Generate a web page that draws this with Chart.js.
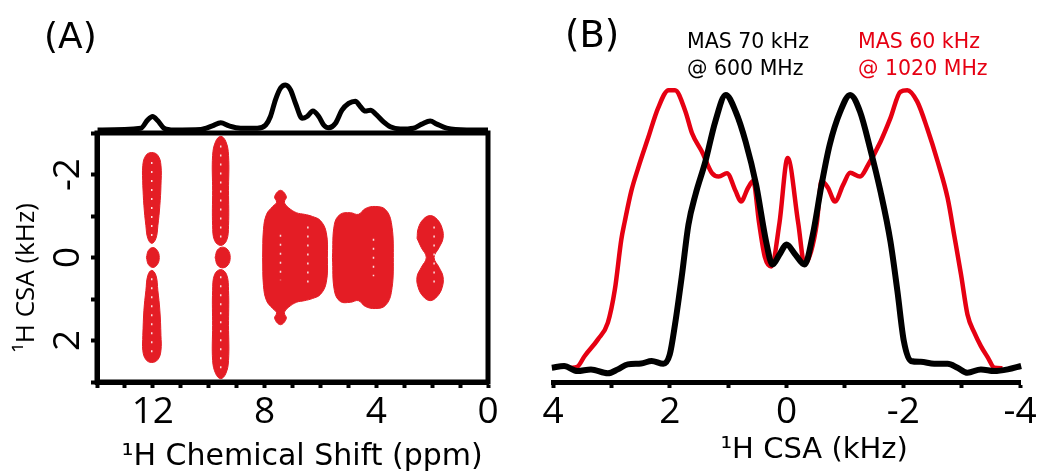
<!DOCTYPE html>
<html><head><meta charset="utf-8">
<script src="https://cdn.jsdelivr.net/npm/chart.js@4.4.1/dist/chart.umd.min.js"></script>
<style>
html,body{margin:0;padding:0;background:#fff;}
#wrap{position:relative;width:1040px;height:472px;overflow:hidden;}
canvas{position:absolute;top:0;}
</style></head><body>
<div id="wrap">
<canvas id="cA" width="520" height="472" style="left:0"></canvas>
<canvas id="cP" width="520" height="140" style="left:0"></canvas>
<canvas id="cB" width="520" height="472" style="left:520px"></canvas>
</div>
<script>
// ---------- Panel A: 1D projection (ppm, intensity) ----------
const projPpm = [13.98,12.43,12.19,12.01,11.83,11.60,11.25,10.29,9.87,9.57,9.27,8.86,8.26,7.96,7.79,7.61,7.43,7.25,7.07,6.89,6.65,6.48,6.27,6.06,5.88,5.70,5.46,5.23,4.99,4.75,4.57,4.39,4.21,3.98,3.74,3.50,3.14,2.67,2.37,2.07,1.83,1.48,0.76,0.00];
const projInt = [0,0.04,0.22,0.30,0.21,0.04,0,0.01,0.09,0.16,0.09,0.04,0.04,0.11,0.30,0.67,0.93,1.00,0.89,0.59,0.26,0.30,0.42,0.30,0.11,0.05,0.15,0.44,0.59,0.64,0.52,0.42,0.44,0.33,0.18,0.07,0.02,0.04,0.13,0.20,0.13,0.04,0,0];

// ---------- Panel A: 2D contour outlines [ppm, kHz] ----------
const peak12Upper = [[12.36,-1.73],[12.36,-2.22],[12.25,-2.46],[12.04,-2.53],[11.82,-2.46],[11.71,-2.22],[11.71,-1.73],[11.75,-1.25],[11.82,-0.77],[11.89,-0.46],[12.04,-0.34],[12.18,-0.46],[12.25,-0.77],[12.32,-1.25],[12.36,-1.73]];
const peak12Center = [[12.23,0],[12.16,-0.17],[12.0,-0.24],[11.84,-0.17],[11.77,0],[11.84,0.17],[12.0,0.24],[12.16,0.17],[12.23,0]];
const peak12Lower = [[12.36,1.88],[12.32,1.27],[12.25,0.80],[12.18,0.43],[12.04,0.31],[11.89,0.43],[11.82,0.80],[11.75,1.27],[11.71,1.88],[11.71,2.24],[11.82,2.46],[12.04,2.53],[12.25,2.46],[12.36,2.24],[12.36,1.88]];
const peak96Upper = [[9.86,-1.61],[9.86,-2.46],[9.75,-2.80],[9.57,-2.92],[9.39,-2.80],[9.29,-2.46],[9.29,-1.61],[9.29,-0.77],[9.36,-0.41],[9.57,-0.29],[9.79,-0.41],[9.86,-0.77],[9.86,-1.61]];
const peak96Center = [[9.77,0],[9.69,-0.18],[9.5,-0.25],[9.31,-0.18],[9.23,0],[9.31,0.18],[9.5,0.25],[9.69,0.18],[9.77,0]];
const peak96Lower = [[9.86,1.64],[9.86,0.80],[9.79,0.41],[9.57,0.29],[9.36,0.41],[9.29,0.80],[9.29,1.64],[9.29,2.48],[9.39,2.80],[9.57,2.92],[9.75,2.80],[9.86,2.48],[9.86,1.64]];
const peak7 = [[8.07,0],[8.04,-0.67],[7.93,-1.04],[7.71,-1.23],[7.57,-1.33],[7.64,-1.47],[7.43,-1.62],[7.22,-1.47],[7.29,-1.33],[7.14,-1.20],[6.86,-1.08],[6.57,-1.04],[6.29,-0.99],[6.0,-0.89],[5.79,-0.60],[5.75,0],[5.79,0.60],[6.0,0.89],[6.29,0.99],[6.57,1.04],[6.86,1.08],[7.14,1.20],[7.29,1.33],[7.22,1.47],[7.43,1.62],[7.64,1.47],[7.57,1.33],[7.71,1.23],[7.93,1.04],[8.04,0.67],[8.07,0]];
const peak45 = [[5.57,0],[5.5,-0.80],[5.29,-1.04],[4.93,-1.08],[4.64,-1.04],[4.39,-1.18],[4.04,-1.23],[3.68,-1.16],[3.46,-0.84],[3.39,0],[3.46,0.84],[3.68,1.16],[4.04,1.23],[4.39,1.18],[4.64,1.04],[4.93,1.08],[5.29,1.06],[5.5,0.80],[5.57,0]];
const peak2 = [[2.54,-0.46],[2.5,-0.70],[2.32,-0.92],[2.07,-1.01],[1.82,-0.92],[1.64,-0.70],[1.61,-0.46],[1.75,-0.24],[1.93,0],[1.75,0.24],[1.61,0.46],[1.64,0.72],[1.82,0.94],[2.07,1.04],[2.32,0.94],[2.5,0.72],[2.54,0.46],[2.39,0.24],[2.21,0],[2.39,-0.24],[2.54,-0.46]];
const contours = [peak12Upper, peak12Center, peak12Lower, peak96Upper, peak96Center, peak96Lower, peak7, peak45, peak2];
// inner contour gaps (white dotted ridges) [ppm, kHz]
const ridges = [
  [[12.04,-2.3],[12.04,-0.5]], [[12.04,0.5],[12.04,2.3]],
  [[9.57,-2.7],[9.57,-0.45]], [[9.57,0.45],[9.57,2.7]],
  [[7.43,-0.55],[7.43,0.55]], [[6.45,-0.75],[6.45,0.75]],
  [[4.1,-0.45],[4.1,0.45]], [[1.93,-0.75],[1.93,0.75]]
];

// ---------- Panel A ticks ----------
const ppmTickLabels = [12, 8, 4, 0];
const csaTickLabelsA = [-2, 0, 2];

// ---------- Panel B: CSA line shapes ----------
const csaBlack = [4.02,3.81,3.58,3.35,3.06,2.89,2.72,2.49,2.31,2.11,2.00,1.91,1.79,1.68,1.56,1.39,1.22,1.04,0.87,0.70,0.52,0.35,0.24,0.12,0.00,-0.15,-0.31,-0.45,-0.60,-0.74,-0.92,-1.09,-1.26,-1.43,-1.61,-1.78,-1.90,-2.01,-2.13,-2.30,-2.53,-2.76,-2.93,-3.10,-3.33,-3.56,-3.79,-4.02];
const intBlack = [0.006,0.012,-0.006,0.000,-0.014,0.000,0.018,0.021,0.030,0.020,0.053,0.160,0.338,0.516,0.623,0.741,0.884,0.979,0.919,0.812,0.658,0.457,0.374,0.410,0.445,0.410,0.374,0.480,0.658,0.801,0.919,0.979,0.919,0.790,0.635,0.457,0.279,0.101,0.030,0.027,0.020,0.020,0.006,-0.012,0.000,-0.006,0.000,0.012];
const csaRed = [3.70,3.58,3.46,3.23,3.06,2.94,2.83,2.77,2.66,2.54,2.37,2.20,2.02,1.91,1.73,1.62,1.45,1.28,1.16,1.02,0.87,0.78,0.66,0.57,0.47,0.37,0.26,0.12,-0.02,-0.20,-0.31,-0.42,-0.52,-0.60,-0.71,-0.83,-0.97,-1.09,-1.26,-1.40,-1.61,-1.78,-1.95,-2.07,-2.24,-2.41,-2.59,-2.76,-2.88,-2.99,-3.10,-3.22,-3.33,-3.45,-3.56,-3.70];
const intRed = [0.005,0.010,0.047,0.107,0.167,0.285,0.463,0.528,0.635,0.719,0.826,0.932,0.996,0.996,0.919,0.843,0.777,0.701,0.688,0.700,0.635,0.599,0.647,0.672,0.523,0.40,0.367,0.523,0.754,0.523,0.374,0.42,0.522,0.672,0.648,0.599,0.658,0.701,0.688,0.730,0.812,0.896,0.990,0.996,0.955,0.860,0.741,0.611,0.470,0.338,0.196,0.130,0.083,0.042,0.006,0.004];
const csaTickLabelsB = [4, 2, 0, -2, -4];
const seriesNames = ['MAS 70 kHz', '@ 600 MHz', 'MAS 60 kHz', '@ 1020 MHz'];

const RED = '#e41d25';
const RED_LINE = '#e60012';
const TITLE_FONT = "'DejaVu Sans', sans-serif";
Chart.defaults.font.family = "'Open Sans', sans-serif";
Chart.defaults.color = '#000';
Chart.defaults.animation = false;

const textPlugin = (items) => ({
  id: 'txt',
  afterDraw(chart) {
    const ctx = chart.ctx;
    ctx.save();
    items.forEach(t => {
      ctx.font = t.font; ctx.fillStyle = t.color;
      ctx.textAlign = 'left'; ctx.textBaseline = 'alphabetic';
      ctx.fillText(t.text, t.x, t.y);
    });
    ctx.restore();
  }
});
const boxPlugin = {
  id: 'box',
  afterDraw(chart) {
    const {ctx, chartArea: a} = chart;
    ctx.save(); ctx.lineWidth = 5; ctx.strokeStyle = '#000';
    ctx.strokeRect(a.left, a.top, a.right - a.left, a.bottom - a.top);
    ctx.restore();
  }
};
const axisTicks = {drawOnChartArea: false, drawTicks: true, tickLength: 6, tickWidth: 4, tickColor: '#000'};

// ---------- Panel A contour chart ----------
new Chart(document.getElementById('cA'), {
  type: 'scatter',
  data: {
    datasets: contours.map(c => ({
      data: c.map(p => ({x: p[0], y: p[1]})),
      showLine: true, fill: 'shape', tension: 0.4, order: 2,
      backgroundColor: RED, borderColor: RED, borderWidth: 1, pointRadius: 0
    })).concat(ridges.map(r => ({
      data: r.map(p => ({x: p[0], y: p[1]})),
      showLine: true, fill: false, borderColor: 'rgba(255,255,255,0.85)', borderWidth: 1.5,
      borderDash: [2, 7], pointRadius: 0, order: 0
    })))
  },
  options: {
    responsive: false,
    layout: {padding: {top: 133, right: 32, left: 0, bottom: 0}},
    plugins: {legend: {display: false}, tooltip: {enabled: false}},
    scales: {
      x: {
        type: 'linear', min: 0, max: 14, reverse: true,
        afterFit(s) { s.height = 90; },
        border: {display: true, width: 5, color: '#000'},
        grid: axisTicks,
        ticks: {stepSize: 1, autoSkip: false, maxRotation: 0, padding: 2, font: {size: 37},
          callback: v => ppmTickLabels.includes(v) ? String(v) : ''},
        title: {display: true, text: '  \u00B9H Chemical Shift (ppm)', font: {size: 30, family: TITLE_FONT, lineHeight: 1.0}, padding: {top: 0, bottom: 0}}
      },
      y: {
        type: 'linear', min: -3, max: 3, reverse: true,
        afterFit(s) { s.width = 97; },
        border: {display: true, width: 5, color: '#000'},
        grid: axisTicks,
        ticks: {stepSize: 1, autoSkip: false, minRotation: 90, maxRotation: 90, crossAlign: 'center', padding: 6, font: {size: 37},
          callback: v => csaTickLabelsA.includes(v) ? String(v) : ''},
        title: {display: true, text: '\u00B9H CSA (kHz)      ', font: {size: 26}, padding: {top: 11, bottom: 0}}
      }
    }
  },
  plugins: [boxPlugin, textPlugin([{text: '(A)', x: 44, y: 48, font: "36px " + TITLE_FONT, color: '#000'}])]
});

// ---------- Panel A projection chart ----------
new Chart(document.getElementById('cP'), {
  type: 'scatter',
  data: {datasets: [{
    data: projPpm.map((v, i) => ({x: v, y: projInt[i]})),
    showLine: true, borderColor: '#000', borderWidth: 5, pointRadius: 0,
    cubicInterpolationMode: 'monotone', clip: 8
  }]},
  options: {
    responsive: false,
    layout: {padding: {top: 85, right: 32, left: 97, bottom: 10}},
    plugins: {legend: {display: false}, tooltip: {enabled: false}},
    scales: {
      x: {type: 'linear', min: 0, max: 14, reverse: true, display: false},
      y: {type: 'linear', min: 0, max: 1, display: false}
    }
  }
});

// ---------- Panel B ----------
new Chart(document.getElementById('cB'), {
  type: 'scatter',
  data: {datasets: [
    {label: seriesNames[0], data: csaBlack.map((v, i) => ({x: v, y: intBlack[i]})),
     showLine: true, borderColor: '#000', borderWidth: 6, pointRadius: 0, cubicInterpolationMode: 'monotone', clip: 6, order: 0},
    {label: seriesNames[2], data: csaRed.map((v, i) => ({x: v, y: intRed[i]})),
     showLine: true, borderColor: RED_LINE, borderWidth: 4.5, pointRadius: 0, cubicInterpolationMode: 'monotone', clip: 6, order: 1}
  ]},
  options: {
    responsive: false,
    layout: {padding: {top: 75, right: 20, left: 33, bottom: 0}},
    plugins: {legend: {display: false}, tooltip: {enabled: false}},
    scales: {
      x: {
        type: 'linear', min: -4, max: 4, reverse: true,
        afterFit(s) { s.height = 90; },
        border: {display: true, width: 5, color: '#000'},
        grid: axisTicks,
        ticks: {stepSize: 1, autoSkip: false, maxRotation: 0, padding: 2, font: {size: 37},
          callback: v => csaTickLabelsB.includes(v) ? String(v) : ''},
        title: {display: true, text: '      \u00B9H CSA (kHz)', font: {size: 29, family: TITLE_FONT, lineHeight: 1.0}, padding: {top: 0, bottom: 7}}
      },
      y: {type: 'linear', min: -0.045, max: 1.05, display: false}
    }
  },
  plugins: [textPlugin([
    {text: '(B)', x: 45, y: 47, font: "37px " + TITLE_FONT, color: '#000'},
    {text: seriesNames[0], x: 167, y: 48, font: "20.5px " + TITLE_FONT, color: '#000'},
    {text: seriesNames[1], x: 167, y: 75, font: "20.5px " + TITLE_FONT, color: '#000'},
    {text: seriesNames[2], x: 338, y: 48, font: "20.5px " + TITLE_FONT, color: RED_LINE},
    {text: seriesNames[3], x: 338, y: 75, font: "20.5px " + TITLE_FONT, color: RED_LINE}
  ])]
});
</script>
</body></html>
